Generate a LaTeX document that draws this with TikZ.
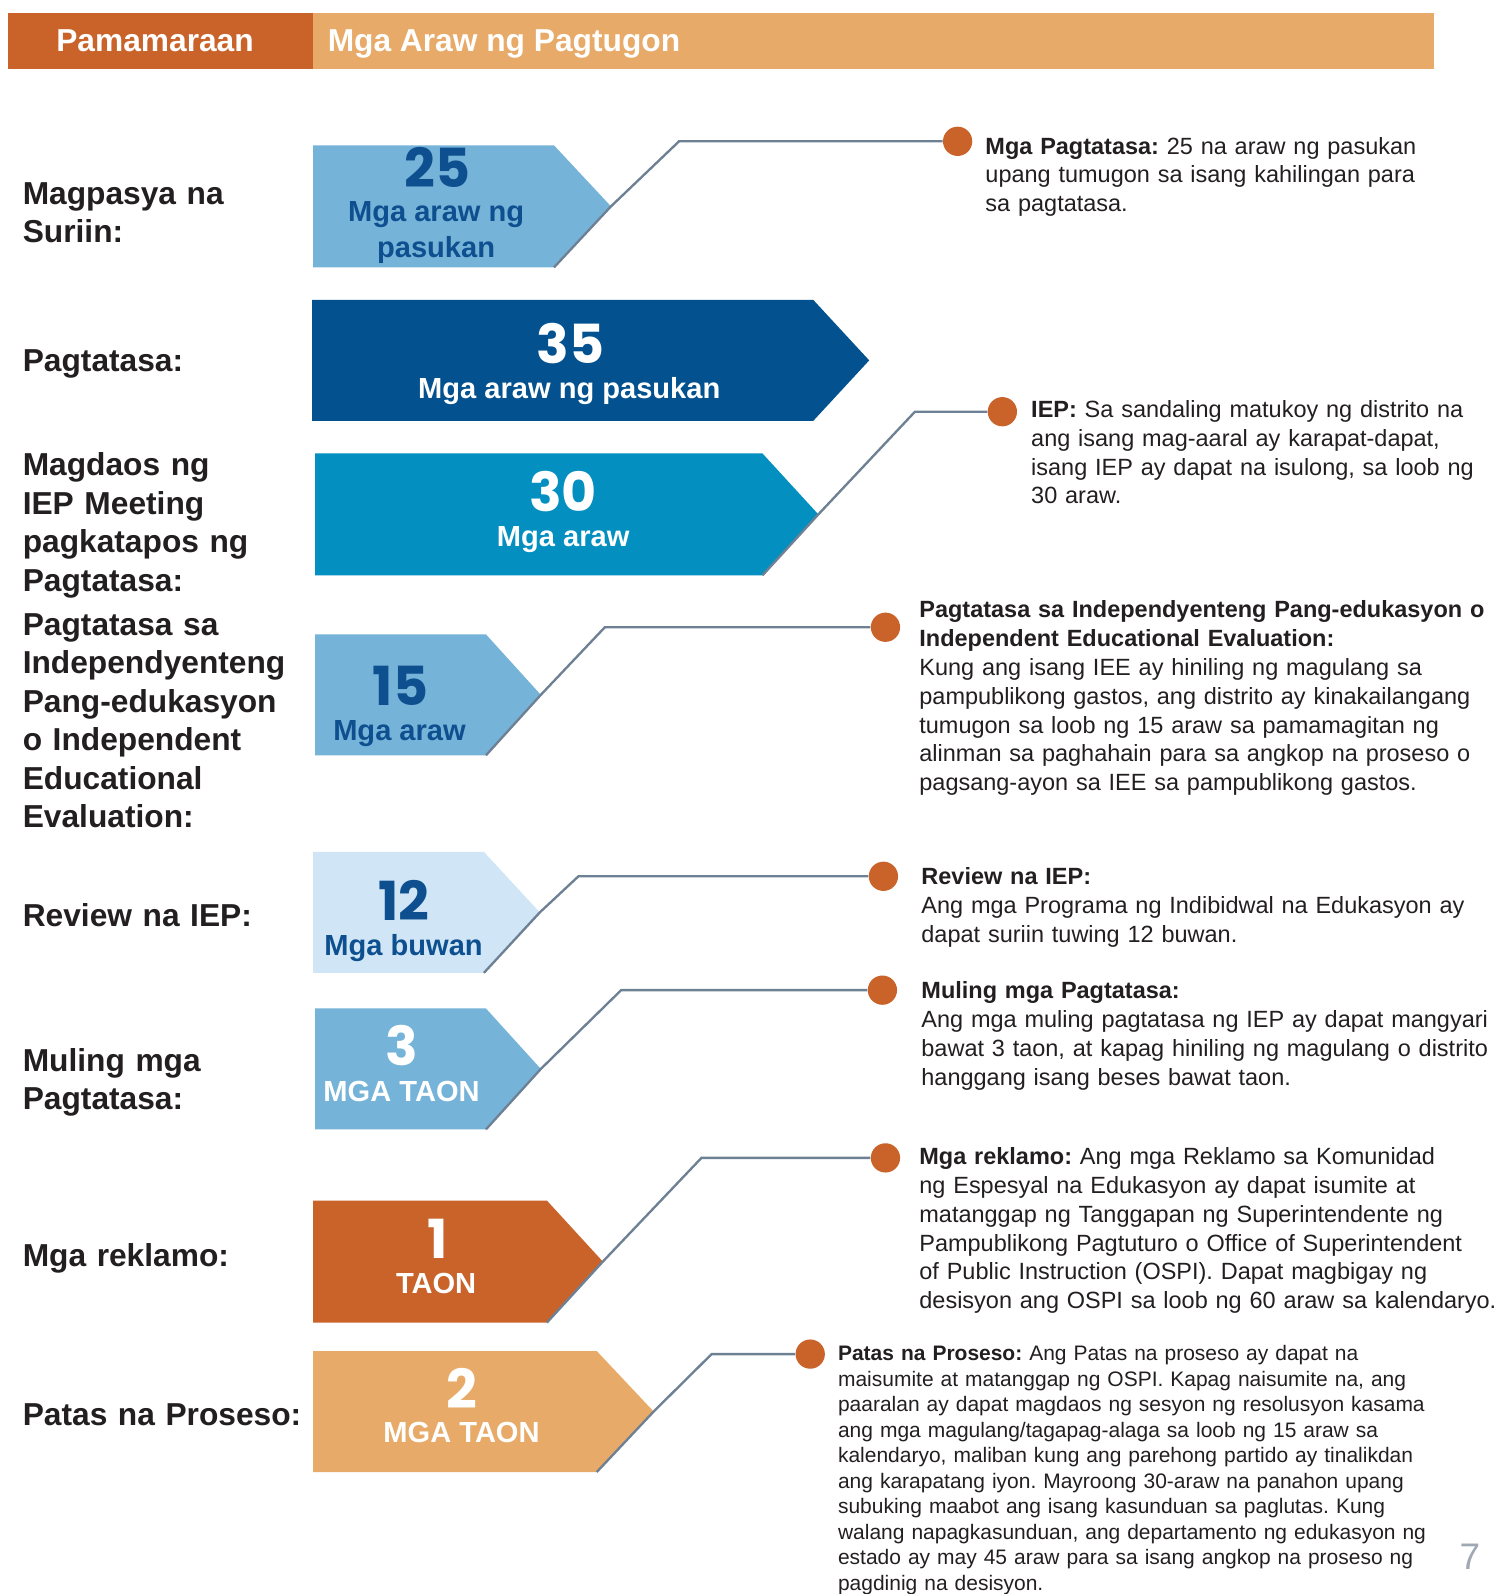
\documentclass[tikz,border=0pt]{standalone}
\usepackage{fontspec}
\setmainfont{Liberation Sans}
\newfontfamily\numfont{Poppins}
\frenchspacing
\definecolor{ink}{HTML}{231F20}
\definecolor{dorange}{HTML}{C9632A}
\definecolor{lorange}{HTML}{E8AA69}
\definecolor{lblue}{HTML}{76B3D8}
\definecolor{dblue}{HTML}{03528F}
\definecolor{teal}{HTML}{048FC1}
\definecolor{pblue}{HTML}{D0E6F6}
\definecolor{numblue}{HTML}{0D4F8F}
\definecolor{conncol}{HTML}{6E8093}
\definecolor{pagegray}{HTML}{A0A8B4}
\newcommand\chev[7]{%
  \fill[#7] (#2,#3) -- (#5,#3) -- (#6,{(#3+#4)/2}) -- (#5,#4) -- (#2,#4) -- cycle;
  \coordinate (#1c) at (#5,#4);
  \coordinate (#1t) at (#6,{(#3+#4)/2});
}
\begin{document}
\begin{tikzpicture}[x=0.5pt,y=-0.5pt,
  hdr/.style={anchor=base west, inner sep=0, text=white, font=\fontsize{15.6}{18}\selectfont\bfseries},
  lbl/.style={anchor=base west, inner sep=0, text width=160pt, align=left, text=ink, font=\fontsize{15.6}{18.9}\selectfont\bfseries},
  num/.style={anchor=base, inner sep=0, font=\numfont\bfseries\fontsize{26.5}{30}\selectfont},
  sub/.style={anchor=base, inner sep=0, font=\fontsize{14.3}{17}\selectfont\bfseries},
  desc/.style={anchor=base west, inner sep=0, text width=320pt, align=left, text=ink, font=\fontsize{11.55}{14.2}\selectfont},
  descs/.style={anchor=base west, inner sep=0, text width=320pt, align=left, text=ink, font=\fontsize{10.32}{12.55}\selectfont},
  dot/.style={circle, fill=dorange, inner sep=0, minimum size=14.4pt},
  conn/.style={draw=conncol, line width=1.15pt}]
\useasboundingbox (0,0) rectangle (1474,1568);
\fill[white] (0,0) rectangle (1474,1568);
% header
\fill[dorange] (8,13) rectangle (308,68);
\fill[lorange] (308,13) rectangle (1411,68);
\node[hdr] (h1) at (55,51) {Pamamaraan};
\node[hdr] (h2) at (322,51) {Mga Araw ng Pagtugon};
% left labels
\node[lbl] (l1) at (22,201) {Magpasya na\\Suriin:};
\node[lbl] (l2) at (22,365) {Pagtatasa:};
\node[lbl] (l3) at (22,468) {Magdaos ng\\IEP Meeting\\pagkatapos ng\\Pagtatasa:};
\node[lbl] (l4) at (22,625) {Pagtatasa sa\\Independyenteng\\Pang-edukasyon\\o Independent\\Educational\\Evaluation:};
\node[lbl] (l5) at (22,911) {Review na IEP:};
\node[lbl] (l6) at (22,1054) {Muling mga\\Pagtatasa:};
\node[lbl] (l7) at (22,1246) {Mga reklamo:};
\node[lbl] (l8) at (22,1402) {Patas na Proseso:};
% chevrons
\chev{a1}{308}{143}{263}{545}{601}{lblue}
\chev{a2}{307}{295}{414}{800}{855}{dblue}
\chev{a3}{310}{446}{566}{750}{805}{teal}
\chev{a4}{310}{624}{743}{478}{532}{lblue}
\chev{a5}{308}{838}{957}{476}{531}{pblue}
\chev{a6}{310}{992}{1111}{478}{532}{lblue}
\chev{a7}{308}{1181}{1301}{538}{593}{dorange}
\chev{a8}{308}{1329}{1448}{587}{643}{lorange}
% chevron texts
\node[num, text=numblue] (n1) at (430,184) {25};
\node[sub, text=numblue] (s1a) at (429,218) {Mga araw ng};
\node[sub, text=numblue] (s1b) at (429,253.5) {pasukan};
\node[num, text=white] (n2) at (561,357.5) {35};
\node[sub, text=white] (s2) at (560,392) {Mga araw ng pasukan};
\node[num, text=white] (n3) at (554,503.5) {30};
\node[sub, text=white] (s3) at (554,538) {Mga araw};
\node[num, text=numblue] (n4) at (394,693.7) {15};
\node[sub, text=numblue] (s4) at (393,728) {Mga araw};
\node[num, text=numblue] (n5) at (397,905) {12};
\node[sub, text=numblue] (s5) at (397,939.7) {Mga buwan};
\node[num, text=white] (n6) at (395,1048) {3};
\node[sub, text=white] (s6) at (395,1084) {MGA TAON};
\node[num, text=white] (n7) at (430,1238) {1};
\node[sub, text=white] (s7) at (429,1272.6) {TAON};
\node[num, text=white] (n8) at (454,1385.7) {2};
\node[sub, text=white] (s8) at (454,1419) {MGA TAON};
% dots
\node[dot] (d1) at (942,139) {};
\node[dot] (d3) at (986,405) {};
\node[dot] (d4) at (871,617) {};
\node[dot] (d5) at (869,862) {};
\node[dot] (d6) at (868,974) {};
\node[dot] (d7) at (871,1139) {};
\node[dot] (d8) at (797,1332) {};
% bends
\coordinate (b1) at (668,139);
\coordinate (b3) at (900,405);
\coordinate (b4) at (595,617);
\coordinate (b5) at (569,862);
\coordinate (b6) at (611,974);
\coordinate (b7) at (690,1139);
\coordinate (b8) at (700,1332);
% connectors
\draw[conn] (a1c) -- (a1t) -- (b1) -- (d1);
\draw[conn] (a3c) -- (a3t) -- (b3) -- (d3);
\draw[conn] (a4c) -- (a4t) -- (b4) -- (d4);
\draw[conn] (a5c) -- (a5t) -- (b5) -- (d5);
\draw[conn] (a6c) -- (a6t) -- (b6) -- (d6);
\draw[conn] (a7c) -- (a7t) -- (b7) -- (d7);
\draw[conn] (a8c) -- (a8t) -- (b8) -- (d8);
% descriptions
\node[desc] (t1) at (969,151.5) {{\bfseries Mga Pagtatasa:} 25 na araw ng pasukan\\upang tumugon sa isang kahilingan para\\sa pagtatasa.};
\node[desc] (t3) at (1014,410.5) {{\bfseries IEP:} Sa sandaling matukoy ng distrito na\\ang isang mag-aaral ay karapat-dapat,\\isang IEP ay dapat na isulong, sa loob ng\\30 araw.};
\node[desc] (t4) at (904,607.5) {{\bfseries Pagtatasa sa Independyenteng Pang-edukasyon o\\Independent Educational Evaluation:}\\Kung ang isang IEE ay hiniling ng magulang sa\\pampublikong gastos, ang distrito ay kinakailangang\\tumugon sa loob ng 15 araw sa pamamagitan ng\\alinman sa paghahain para sa angkop na proseso o\\pagsang-ayon sa IEE sa pampublikong gastos.};
\node[desc] (t5) at (906,870.5) {{\bfseries Review na IEP:}\\Ang mga Programa ng Indibidwal na Edukasyon ay\\dapat suriin tuwing 12 buwan.};
\node[desc] (t6) at (906,982.5) {{\bfseries Muling mga Pagtatasa:}\\Ang mga muling pagtatasa ng IEP ay dapat mangyari\\bawat 3 taon, at kapag hiniling ng magulang o distrito\\hanggang isang beses bawat taon.};
\node[desc] (t7) at (904,1145.5) {{\bfseries Mga reklamo:} Ang mga Reklamo sa Komunidad\\ng Espesyal na Edukasyon ay dapat isumite at\\matanggap ng Tanggapan ng Superintendente ng\\Pampublikong Pagtuturo o Office of Superintendent\\of Public Instruction (OSPI). Dapat magbigay ng\\desisyon ang OSPI sa loob ng 60 araw sa kalendaryo.};
\node[descs] (t8) at (824,1338.5) {{\bfseries Patas na Proseso:} Ang Patas na proseso ay dapat na\\maisumite at matanggap ng OSPI. Kapag naisumite na, ang\\paaralan ay dapat magdaos ng sesyon ng resolusyon kasama\\ang mga magulang/tagapag-alaga sa loob ng 15 araw sa\\kalendaryo, maliban kung ang parehong partido ay tinalikdan\\ang karapatang iyon. Mayroong 30-araw na panahon upang\\subuking maabot ang isang kasunduan sa paglutas. Kung\\walang napagkasunduan, ang departamento ng edukasyon ng\\estado ay may 45 araw para sa isang angkop na proseso ng\\pagdinig na desisyon.};
% page number
\node[anchor=base, inner sep=0, text=pagegray, font=\fontsize{18.2}{20}\selectfont] (pg) at (1446,1544) {7};
\end{tikzpicture}
\end{document}
